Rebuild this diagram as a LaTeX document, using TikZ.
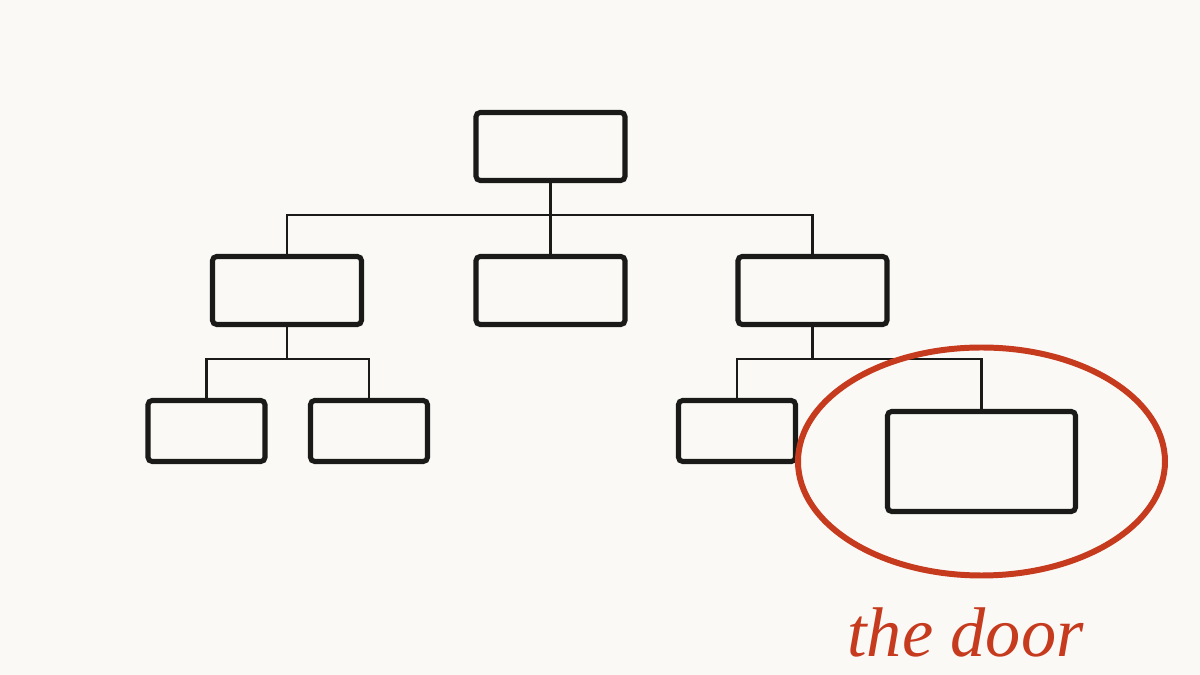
\documentclass[tikz,border=0pt]{standalone}
\usepackage{fontspec}
\usepackage{tikz}
\usetikzlibrary{positioning,calc}

\newfontfamily\notefont{Liberation Serif}

\definecolor{paper}{HTML}{FAF9F6}
\definecolor{ink}{HTML}{1A1A18}
\definecolor{rust}{HTML}{C63A1E}

\tikzset{
	box/.style={draw=ink, line width=1.45pt, rounded corners=1.2pt, fill=paper, inner sep=0pt},
	bigbox/.style={box, minimum width=1.49cm, minimum height=0.68cm},
	smallbox/.style={box, minimum width=1.17cm, minimum height=0.61cm},
	wire/.style={draw=ink, line width=0.75pt}
}

\begin{document}
\begin{tikzpicture}
	\fill[paper] (0,0) rectangle (12,6.75);
	\useasboundingbox (0,0) rectangle (12,6.75);
	% bus levels
	\coordinate (busA) at (0,4.60);
	\coordinate (busB) at (0,3.16);
	% boxes
	\node[bigbox] (top) at (5.505, 5.285) {};
	\node[bigbox] (midL) at (2.87, 3.845) {};
	\node[bigbox] (midC) at (5.505, 3.845) {};
	\node[bigbox] (midR) at (8.125, 3.845) {};
	\node[smallbox] (lowA) at (2.065, 2.44) {};
	\node[smallbox] (lowB) at (3.69, 2.44) {};
	\node[smallbox] (lowC) at (7.37, 2.44) {};
	\node[box, minimum width=1.88cm, minimum height=1.0cm] (door) at (9.815, 2.135) {};
	% connectors
	\draw[wire] (top.south) -- (midC.north);
	\draw[wire] (midL.north) -- (midL.north |- busA) -- (midR.north |- busA) -- (midR.north);
	\draw[wire] (midL.south) -- (midL.south |- busB);
	\draw[wire] (lowA.north) -- (lowA.north |- busB) -- (lowB.north |- busB) -- (lowB.north);
	\draw[wire] (midR.south) -- (midR.south |- busB);
	\draw[wire] (lowC.north) -- (lowC.north |- busB) -- (door.north |- busB) -- (door.north);
	% highlight
	\draw[rust, line width=1.7pt] (door.center) ellipse [x radius=1.835cm, y radius=1.14cm];
	\node[rust, anchor=base, inner sep=0pt] (label) at (9.655, 0.18) {\notefont\fontsize{20}{22}\selectfont\itshape the door};
\end{tikzpicture}
\end{document}
